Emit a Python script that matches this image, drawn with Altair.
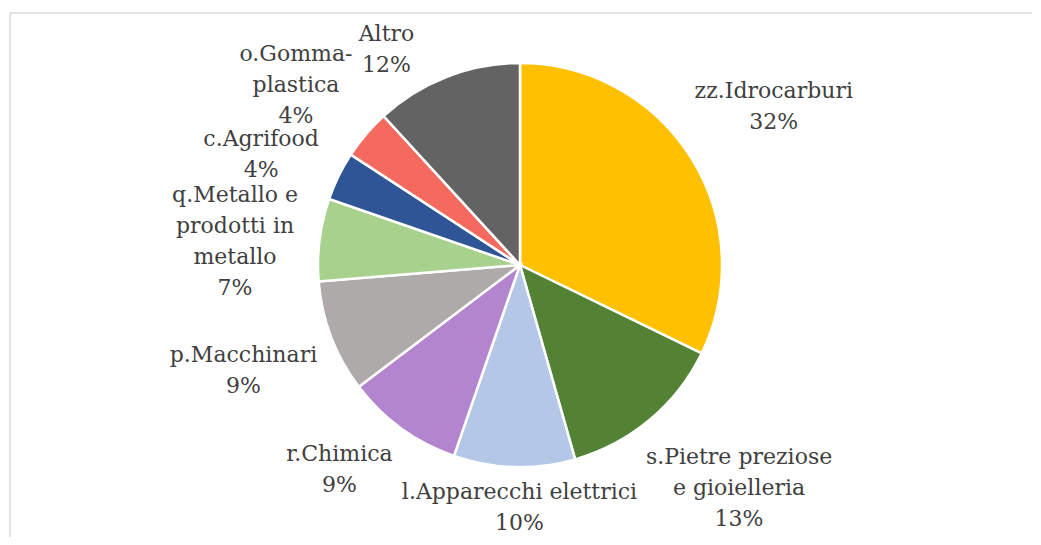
import math
import altair as alt
import pandas as pd

# ---- data ----
names = [
    "zz.Idrocarburi",
    "s.Pietre preziose e gioielleria",
    "l.Apparecchi elettrici",
    "r.Chimica",
    "p.Macchinari",
    "q.Metallo e prodotti in metallo",
    "c.Agrifood",
    "o.Gomma-plastica",
    "Altro",
]
label_lines = [
    "zz.Idrocarburi",
    "s.Pietre preziose\ne gioielleria",
    "l.Apparecchi elettrici",
    "r.Chimica",
    "p.Macchinari",
    "q.Metallo e\nprodotti in\nmetallo",
    "c.Agrifood",
    "o.Gomma-\nplastica",
    "Altro",
]
values = [32.2, 13.4, 9.7, 9.4, 9.0, 6.6, 3.9, 4.0, 11.8]
colors = ["#FFC000", "#548235", "#B4C7E7", "#B385CF", "#AEAAAA",
          "#A9D18E", "#2F5597", "#F46A5E", "#636363"]

# ---- style / layout ----
R = 202
FS = 22
LH = 31
GAP = 17
CX, CY = 510, 252
W, H = 1022, 524

# approximate DejaVu Serif advance widths (em) for label-box estimation
CW = {"i": .32, "l": .32, "j": .32, ".": .318, " ": .318, "-": .338, "t": .402,
      "f": .37, "r": .478, "s": .513, "z": .525, "c": .56, "v": .565, "e": .592,
      "a": .596, "o": .602, "m": .948, "w": .85, "%": .95, "M": .995, "I": .468,
      "G": .775, "A": .722, "P": .733, "C": .733}


def text_w(s):
    tot = 0.0
    for ch in s:
        if ch in CW:
            tot += CW[ch]
        elif ch.isdigit():
            tot += .636
        elif ch.isupper():
            tot += .73
        else:
            tot += .64
    return tot * FS


total = sum(values)
texts, sizes, nlines, thetas = [], [], [], []
cum = 0.0
for lab, v in zip(label_lines, values):
    thetas.append((cum + v / 2) / total * 2 * math.pi)
    cum += v
    t = lab + "\n" + f"{round(v)}%"
    lines = t.split("\n")
    texts.append(t)
    nlines.append(len(lines))
    sizes.append((max(text_w(s) for s in lines), (len(lines) - 1) * LH + 0.75 * FS))


def place(th, size):
    w, h = size
    d = R + GAP + abs(math.sin(th)) * w / 2 + abs(math.cos(th)) * h / 2
    cx, cy = d * math.sin(th), -d * math.cos(th)
    return (cx - w / 2, cy - h / 2, cx + w / 2, cy + h / 2), cx, cy


def overlap(a, b, pad=6):
    return not (a[2] + pad <= b[0] or b[2] + pad <= a[0] or a[3] + pad <= b[1] or b[3] + pad <= a[1])


# simple best-fit layout: push overlapping neighbours apart, keep inside the chart
step = math.radians(0.5)
top_lim, bot_lim = -CY + 12, H - CY + 2
n = len(thetas)
for _ in range(3000):
    moved = False
    boxes = [place(t, s)[0] for t, s in zip(thetas, sizes)]
    for i in range(n):
        j = (i + 1) % n
        if overlap(boxes[i], boxes[j]):
            thetas[i] -= step
            thetas[j] += step
            moved = True
    boxes = [place(t, s)[0] for t, s in zip(thetas, sizes)]
    for i in range(n):
        b = boxes[i]
        if b[1] < top_lim:
            thetas[i] += step if math.sin(thetas[i]) > 0 else -step
            moved = True
        elif b[3] > bot_lim:
            thetas[i] += -step if math.sin(thetas[i]) > 0 else step
            moved = True
    if not moved:
        break

# text anchor = first line's middle: shift up from the block centre
anchor_th, anchor_d = [], []
for t, s, k in zip(thetas, sizes, nlines):
    _, cx, cy = place(t, s)
    ay = cy - (k - 1) * LH / 2
    anchor_th.append(math.atan2(cx, -ay) % (2 * math.pi))
    anchor_d.append(math.hypot(cx, ay))

df = pd.DataFrame({
    "idx": list(range(n)),
    "name": names,
    "value": values,
    "label": texts,
    "th": anchor_th,
    "d": anchor_d,
})

base = alt.Chart(df)

pie = base.mark_arc(outerRadius=R, stroke="white", strokeWidth=2.5).encode(
    theta=alt.Theta("value:Q", stack=True),
    color=alt.Color("name:N", scale=alt.Scale(domain=names, range=colors), legend=None),
    order=alt.Order("idx:Q"),
    x=alt.value(CX),
    y=alt.value(CY),
)

labels = base.mark_text(
    font="DejaVu Serif", fontSize=FS, lineHeight=LH, lineBreak="\n",
    color="#404040", align="center", baseline="middle",
).encode(
    theta=alt.Theta("th:Q", scale=None),
    radius=alt.Radius("d:Q", scale=None),
    text="label:N",
    x=alt.value(CX),
    y=alt.value(CY),
)

frame_top = alt.Chart(df.head(1)).mark_rule(color="#d9d9d9", strokeWidth=1.5).encode(
    x=alt.value(0), x2=alt.value(W), y=alt.value(0)
)
frame_left = alt.Chart(df.head(1)).mark_rule(color="#d9d9d9", strokeWidth=1.5).encode(
    x=alt.value(0), y=alt.value(0), y2=alt.value(H)
)

chart = alt.layer(frame_top, frame_left, pie, labels).properties(
    width=W, height=H,
    padding={"left": 1, "top": 4, "right": 0, "bottom": 0},
).configure_view(strokeWidth=0)

chart.save("out.html", embed_options={"renderer": "svg", "actions": False})
